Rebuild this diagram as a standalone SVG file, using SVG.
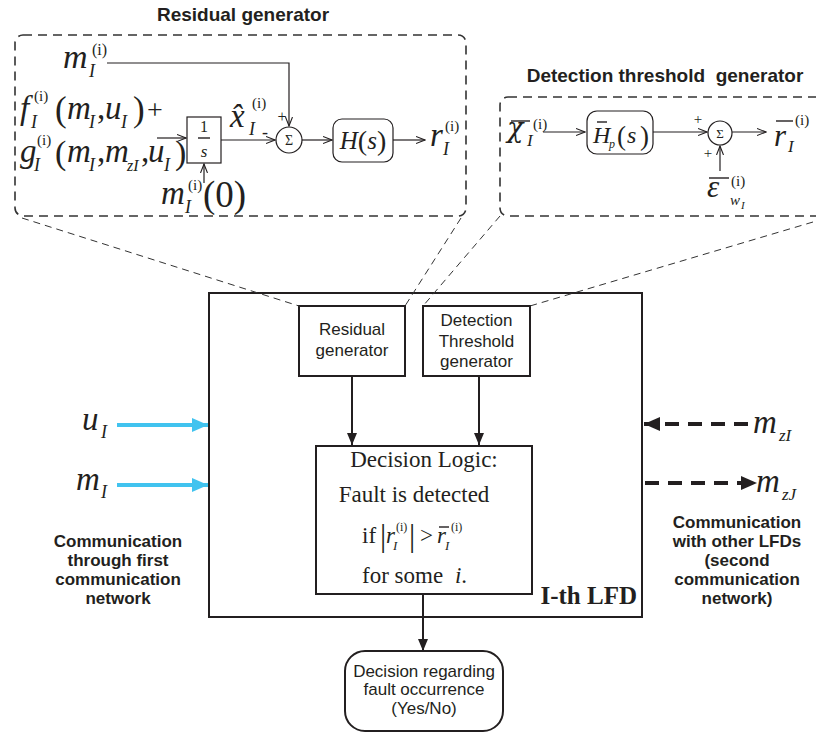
<svg xmlns="http://www.w3.org/2000/svg" width="816" height="738" viewBox="0 0 816 738">
<style>
.t{font-family:"Liberation Sans",Arial,sans-serif;fill:#231f20}
.b{font-weight:bold}
.s{font-family:"Liberation Serif","Times New Roman",serif;fill:#231f20}
.dj{font-family:"DejaVu Serif","Liberation Serif",serif;fill:#231f20}
.i{font-style:italic}
.mid{text-anchor:middle}
.thin{stroke:#231f20;stroke-width:1.2;fill:none}
.bar{stroke:#231f20;stroke-width:1.4;fill:none}
.dbox{fill:none;stroke:#333;stroke-width:1.6;stroke-dasharray:9 6}
.dl{fill:none;stroke:#333;stroke-width:1;stroke-dasharray:7 5}
.box{fill:#fff;stroke:#231f20;stroke-width:2}
.tbox{fill:#fff;stroke:#231f20;stroke-width:1.2}
.arr{stroke:#231f20;stroke-width:2;fill:none}
.cy{stroke:#41c3ef;stroke-width:4;fill:none}
.dk{stroke:#231f20;stroke-width:4;fill:none;stroke-dasharray:14 9}
</style>
<defs>
<marker id="oa" markerUnits="userSpaceOnUse" markerWidth="10" markerHeight="8" refX="9" refY="4" orient="auto"><path d="M0,0.5 L9,4 L0,7.5" fill="none" stroke="#231f20" stroke-width="1.1"/></marker>
<marker id="fa" markerUnits="userSpaceOnUse" markerWidth="12" markerHeight="10" refX="12" refY="5" orient="auto"><path d="M0,0 L12,5 L0,10 z" fill="#231f20"/></marker>
<marker id="ca" markerUnits="userSpaceOnUse" markerWidth="16" markerHeight="14" refX="16" refY="7" orient="auto"><path d="M0,0 L16,7 L0,14 z" fill="#41c3ef"/></marker>
<marker id="ka" markerUnits="userSpaceOnUse" markerWidth="16" markerHeight="14" refX="16" refY="7" orient="auto"><path d="M0,0 L16,7 L0,14 z" fill="#231f20"/></marker>
</defs>
<rect width="816" height="738" fill="#fff"/>

<!-- Residual generator detail -->
<g id="residual-detail">
<text class="t b mid" x="243" y="21" font-size="19">Residual generator</text>
<rect class="dbox" x="15" y="35" width="451" height="181" rx="8"/>
<text class="s i" x="63" y="68" font-size="34">m</text>
<text class="s" x="92" y="55" font-size="16">(i)</text>
<text class="s i" x="89" y="77" font-size="18">I</text>

<text class="s i" x="20" y="119" font-size="33">f</text>
<text class="s" x="34" y="101" font-size="15">(i)</text>
<text class="s i" x="31" y="128" font-size="18">I</text>
<text class="s" x="55" y="121" font-size="35">(</text>
<text class="s i" x="67" y="119" font-size="33">m</text>
<text class="s i" x="89" y="128" font-size="18">I</text>
<text class="s" x="97" y="119" font-size="33">,</text>
<text class="s i" x="105" y="119" font-size="33">u</text>
<text class="s i" x="121" y="128" font-size="18">I</text>
<text class="s" x="133" y="121" font-size="35">)</text>
<text class="s" x="147" y="119" font-size="28">+</text>

<text class="s i" x="20" y="162" font-size="33">g</text>
<text class="s" x="37" y="145" font-size="15">(i)</text>
<text class="s i" x="34" y="171" font-size="18">I</text>
<text class="s" x="55" y="164" font-size="34">(</text>
<text class="s i" x="67" y="162" font-size="33">m</text>
<text class="s i" x="89" y="171" font-size="18">I</text>
<text class="s" x="97" y="162" font-size="33">,</text>
<text class="s i" x="105" y="162" font-size="33">m</text>
<text class="s i" x="127" y="171" font-size="16">zI</text>
<text class="s" x="141" y="162" font-size="33">,</text>
<text class="s i" x="148" y="162" font-size="33">u</text>
<text class="s i" x="164" y="171" font-size="18">I</text>
<text class="s" x="175" y="164" font-size="34">)</text>

<rect class="tbox" x="187" y="117" width="34" height="46"/>
<text class="s mid" x="204" y="132" font-size="16">1</text>
<line class="bar" x1="198" y1="138" x2="210" y2="138"/>
<text class="s i mid" x="204" y="157" font-size="17">s</text>

<text class="s i" x="161" y="204" font-size="33">m</text>
<text class="s" x="188" y="190" font-size="15">(i)</text>
<text class="s i" x="185" y="213" font-size="18">I</text>
<text class="s" x="203" y="207" font-size="37">(0)</text>

<text class="s i" x="230" y="127" font-size="33">x̂</text>
<text class="s" x="252" y="108" font-size="15">(i)</text>
<text class="s i" x="249" y="135" font-size="18">I</text>
<text class="s" x="262" y="138" font-size="18">-</text>
<text class="s mid" x="282" y="122" font-size="16">+</text>

<circle class="tbox" cx="289" cy="140" r="13"/>
<text class="s mid" x="289" y="145" font-size="14">Σ</text>

<rect class="tbox" x="333" y="119" width="60" height="43" rx="9"/>
<text class="s mid" x="363" y="149" font-size="25"><tspan class="i">H</tspan><tspan font-size="28" dy="1">(</tspan><tspan class="i" dy="-1">s</tspan><tspan font-size="28" dy="1">)</tspan></text>

<text class="s i" x="430" y="146" font-size="33">r</text>
<text class="s" x="445" y="131" font-size="15">(i)</text>
<text class="s i" x="443" y="155" font-size="18">I</text>

<path class="thin" d="M107,63 H289 V126" marker-end="url(#oa)"/>
<line class="thin" x1="157" y1="138" x2="186" y2="138" marker-end="url(#oa)"/>
<line class="thin" x1="204" y1="183" x2="204" y2="164" marker-end="url(#oa)"/>
<line class="thin" x1="221" y1="140" x2="275" y2="140" marker-end="url(#oa)"/>
<line class="thin" x1="302" y1="140" x2="332" y2="140" marker-end="url(#oa)"/>
<line class="thin" x1="393" y1="140" x2="425" y2="140" marker-end="url(#oa)"/>
</g>

<!-- Detection threshold generator detail -->
<g id="threshold-detail">
<text class="t b mid" x="665" y="82" font-size="19" xml:space="preserve">Detection threshold  generator</text>
<rect class="dbox" x="500" y="97" width="340" height="119" rx="8"/>
<text class="dj i" x="507" y="137" font-size="27">χ</text>
<line class="bar" x1="511" y1="121" x2="530" y2="121"/>
<text class="s" x="533" y="129" font-size="15">(i)</text>
<text class="s i" x="527" y="146" font-size="17">I</text>

<rect class="tbox" x="587" y="111" width="66" height="43" rx="10"/>
<text class="s i" x="593" y="143" font-size="24">H</text>
<line class="bar" x1="597" y1="122" x2="607" y2="122"/>
<text class="s i" x="609" y="148" font-size="12">p</text>
<text class="s" x="617" y="145" font-size="27">(</text>
<text class="s i" x="627" y="143" font-size="24">s</text>
<text class="s" x="640" y="145" font-size="27">)</text>

<circle class="tbox" cx="720" cy="133" r="12"/>
<text class="s mid" x="720" y="138" font-size="13">Σ</text>
<text class="s mid" x="698" y="124" font-size="15">+</text>
<text class="s mid" x="708" y="158" font-size="15">+</text>

<text class="s i" x="774" y="146" font-size="31">r</text>
<line class="bar" x1="776" y1="121" x2="793" y2="121"/>
<text class="s" x="795" y="125" font-size="15">(i)</text>
<text class="s i" x="788" y="152" font-size="17">I</text>

<text class="s i" x="707" y="197" font-size="31">ε</text>
<line class="bar" x1="709" y1="178" x2="729" y2="178"/>
<text class="s" x="731" y="186" font-size="15">(i)</text>
<text class="s i" x="730" y="205" font-size="15">w</text>
<text class="s i" x="741" y="209" font-size="11">I</text>

<line class="thin" x1="543" y1="132" x2="585" y2="132" marker-end="url(#oa)"/>
<line class="thin" x1="653" y1="132" x2="707" y2="132" marker-end="url(#oa)"/>
<line class="thin" x1="732" y1="132" x2="766" y2="132" marker-end="url(#oa)"/>
<line class="thin" x1="720" y1="171" x2="720" y2="146" marker-end="url(#oa)"/>
</g>

<!-- Main LFD -->
<g id="lfd">
<rect class="box" x="209" y="293" width="433" height="324"/>
<text class="s b" x="637" y="604" font-size="25" text-anchor="end">I-th LFD</text>
</g>

<g id="residual-generator">
<rect class="box" x="299" y="306" width="106" height="70"/>
<text class="t mid" x="352" y="335" font-size="17">Residual</text>
<text class="t mid" x="352" y="356" font-size="17">generator</text>
</g>

<g id="threshold-generator">
<rect class="box" x="423" y="306" width="107" height="70"/>
<text class="t mid" x="476.5" y="326" font-size="17">Detection</text>
<text class="t mid" x="476.5" y="347" font-size="17">Threshold</text>
<text class="t mid" x="476.5" y="367" font-size="17">generator</text>
</g>

<g id="decision-logic">
<rect class="box" x="316" y="446" width="216" height="148"/>
<text class="s mid" x="424" y="467" font-size="23">Decision Logic:</text>
<text class="s mid" x="414" y="502" font-size="23">Fault is detected</text>
<text class="s" x="362" y="543" font-size="23">if</text>
<text class="s" x="380" y="546" font-size="31">|</text>
<text class="s i" x="386" y="543" font-size="23">r</text>
<text class="s" x="396" y="531" font-size="12">(i)</text>
<text class="s i" x="393" y="550" font-size="13">I</text>
<text class="s" x="409" y="546" font-size="31">|</text>
<text class="s" x="420" y="543" font-size="23">&gt;</text>
<text class="s i" x="437" y="543" font-size="23">r</text>
<line class="bar" x1="439" y1="527" x2="449" y2="527"/>
<text class="s" x="451" y="531" font-size="12">(i)</text>
<text class="s i" x="445" y="550" font-size="13">I</text>
<text class="s" x="362" y="583" font-size="23">for some <tspan class="i" dx="6">i</tspan>.</text>
</g>

<g id="decision-output">
<rect class="box" x="345" y="651" width="158" height="80" rx="20"/>
<text class="t mid" x="424" y="677" font-size="17">Decision regarding</text>
<text class="t mid" x="424" y="695" font-size="17">fault occurrence</text>
<text class="t mid" x="424" y="714" font-size="17">(Yes/No)</text>
</g>

<g id="inputs-left">
<text class="s i" x="82" y="430" font-size="33">u</text>
<text class="s i" x="101" y="438" font-size="18">I</text>
<text class="s i" x="76" y="490" font-size="33">m</text>
<text class="s i" x="101" y="498" font-size="18">I</text>
<text class="t b mid" x="118" y="547" font-size="17">Communication</text>
<text class="t b mid" x="118" y="566" font-size="17">through first</text>
<text class="t b mid" x="118" y="585" font-size="17">communication</text>
<text class="t b mid" x="118" y="604" font-size="17">network</text>
</g>

<g id="comm-right">
<text class="s i" x="753" y="433" font-size="33">m</text>
<text class="s i" x="779" y="441" font-size="17">zI</text>
<text class="s i" x="756" y="492" font-size="33">m</text>
<text class="s i" x="782" y="500" font-size="17">zJ</text>
<text class="t b mid" x="737" y="528" font-size="17">Communication</text>
<text class="t b mid" x="737" y="547" font-size="17">with other LFDs</text>
<text class="t b mid" x="737" y="566" font-size="17">(second</text>
<text class="t b mid" x="737" y="585" font-size="17">communication</text>
<text class="t b mid" x="737" y="604" font-size="17">network)</text>
</g>

<g id="connectors">
<line class="dl" x1="22" y1="218" x2="299" y2="306"/>
<line class="dl" x1="461" y1="218" x2="405" y2="306"/>
<line class="dl" x1="500" y1="216" x2="423" y2="306"/>
<line class="dl" x1="813" y1="222" x2="530" y2="306"/>
<line class="arr" x1="352" y1="376" x2="352" y2="445" marker-end="url(#fa)"/>
<line class="arr" x1="479" y1="376" x2="479" y2="445" marker-end="url(#fa)"/>
<line class="arr" x1="423" y1="594" x2="423" y2="651" marker-end="url(#fa)"/>
<line class="cy" x1="117" y1="425" x2="208" y2="425" marker-end="url(#ca)"/>
<line class="cy" x1="117" y1="485" x2="208" y2="485" marker-end="url(#ca)"/>
<line class="dk" x1="748" y1="424" x2="644" y2="424" marker-end="url(#ka)"/>
<line class="dk" x1="645" y1="483" x2="757" y2="483" marker-end="url(#ka)"/>
</g>
</svg>
